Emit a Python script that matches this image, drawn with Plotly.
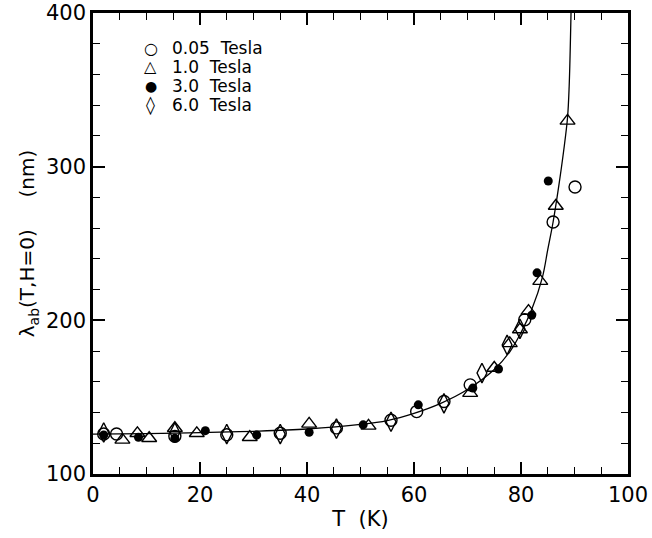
import plotly.graph_objects as go

# 0.05 Tesla (open circles)
T_005 = [2.0, 4.4, 15.3, 25.0, 35.0, 45.5, 55.7, 60.5, 65.6, 70.5, 80.7, 86.0, 90.1]
L_005 = [126.0, 126.0, 124.5, 125.5, 126.5, 130.0, 135.0, 140.6, 147.2, 158.0, 200.4, 264.0, 286.8]

# 1.0 Tesla (open triangles)
T_10 = [5.5, 8.3, 10.5, 15.3, 19.4, 29.3, 40.4, 51.5, 70.5, 75.0, 77.9, 79.8, 81.4, 83.6, 86.5, 88.7]
L_10 = [122.2, 126.5, 123.3, 129.8, 126.5, 123.9, 132.6, 131.3, 152.6, 169.0, 185.0, 194.0, 206.0, 225.5, 274.4, 329.8]

# 3.0 Tesla (filled circles)
T_30 = [2.0, 8.5, 15.3, 21.0, 30.6, 40.4, 50.5, 60.8, 71.0, 75.8, 82.0, 83.0, 85.1]
L_30 = [125.4, 123.9, 123.3, 128.2, 125.4, 127.2, 132.0, 145.0, 155.9, 168.3, 203.3, 230.9, 290.7]

# 6.0 Tesla (open diamonds)
T_60 = [2.0, 15.3, 25.0, 35.0, 45.5, 55.7, 65.6, 72.7, 77.4, 79.8]
L_60 = [127.0, 127.0, 126.0, 126.0, 129.5, 134.0, 146.0, 165.7, 184.0, 194.5]

# fitted curve
T_fit = [0, 10, 20, 30, 40, 50, 55, 60, 65, 70, 75, 78, 80, 82, 84, 85, 86, 87, 88, 88.7, 89.0, 89.35]
L_fit = [126.0, 126.3, 126.9, 127.8, 129.3, 132.3, 134.8, 139.5, 146.0, 155.0, 168.0, 180.0, 192.0, 207.0, 228.0, 246.0, 264.0, 286.0, 311.0, 332.0, 352.0, 400.0]

# legend entries
legend_symbols = ["\u25cb", "\u25b3", "\u25cf", "\u25ca"]
legend_labels = ["0.05\u00a0\u00a0Tesla", "1.0\u00a0\u00a0Tesla", "3.0\u00a0\u00a0Tesla", "6.0\u00a0\u00a0Tesla"]

FONT = "DejaVu Sans, Liberation Sans, Arial, sans-serif"
NB = "\u00a0"

fig = go.Figure()
fig.add_trace(go.Scatter(x=T_fit, y=L_fit, mode="lines", line=dict(color="black", width=1.3, shape="spline"),
                         showlegend=False, hoverinfo="skip"))
fig.add_trace(go.Scatter(x=T_005, y=L_005, mode="markers", name=legend_labels[0],
                         marker=dict(symbol="circle-open", size=12, color="black", line=dict(width=1.4))))
fig.add_trace(go.Scatter(x=T_10, y=L_10, mode="markers", name=legend_labels[1],
                         marker=dict(symbol="triangle-up-open", size=13, color="black", line=dict(width=1.4))))
fig.add_trace(go.Scatter(x=T_30, y=L_30, mode="markers", name=legend_labels[2],
                         marker=dict(symbol="circle", size=9, color="black")))
fig.add_trace(go.Scatter(x=T_60, y=L_60, mode="markers", name=legend_labels[3],
                         marker=dict(symbol="diamond-tall-open", size=14, color="black", line=dict(width=1.4))))

axis_common = dict(
    showline=True, linecolor="black", linewidth=2.5, mirror="allticks",
    ticks="inside", ticklen=12, tickwidth=1.5, tickcolor="black",
    showgrid=False, zeroline=False, automargin=False,
    tickfont=dict(family=FONT, size=21, color="black"),
)

fig.update_xaxes(range=[0, 100], dtick=20, tick0=0,
                 minor=dict(dtick=5, ticklen=7, tickwidth=1.2, ticks="inside", tickcolor="black", showgrid=False),
                 title=dict(text="T" + NB * 2 + "(K)", font=dict(family=FONT, size=21, color="black"), standoff=6),
                 **axis_common)
fig.update_yaxes(range=[100, 400], dtick=100, tick0=100,
                 minor=dict(dtick=20, ticklen=7, tickwidth=1.2, ticks="inside", tickcolor="black", showgrid=False),
                 title=dict(text="λ<sub>ab</sub>(T,H=0)" + NB * 5 + "(nm)", font=dict(family=FONT, size=20, color="black"), standoff=6),
                 **axis_common)

# manual legend (paper coordinates)
row_y = [0.924, 0.883, 0.842, 0.800]
sym_size = [16, 16, 14, 18]
for s, lab, yy, ss in zip(legend_symbols, legend_labels, row_y, sym_size):
    fig.add_annotation(xref="paper", yref="paper", x=0.1084, y=yy, text=s, showarrow=False,
                       xanchor="center", yanchor="middle", font=dict(family=FONT, size=ss, color="black"))
    fig.add_annotation(xref="paper", yref="paper", x=0.1439, y=yy, text=lab, showarrow=False,
                       xanchor="left", yanchor="middle", font=dict(family=FONT, size=17, color="black"))

fig.update_layout(
    width=652, height=538,
    margin=dict(l=93, r=24, t=13, b=64),
    paper_bgcolor="white", plot_bgcolor="white",
    font=dict(family=FONT, color="black"),
    showlegend=False,
)

fig.write_html("out.html")
